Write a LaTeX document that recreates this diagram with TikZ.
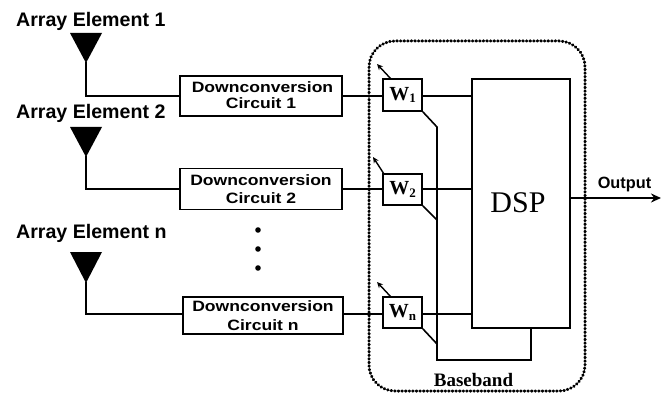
\documentclass[tikz,border=0pt]{standalone}
\usepackage{fontspec}
\setmainfont{Liberation Sans}
\newfontfamily\serifface{Liberation Serif}
\newfontfamily\wideface[FakeStretch=1.17]{Liberation Sans}
\usetikzlibrary{arrows.meta}
\tikzset{
  wire/.style={line width=1.6pt},
  lbl/.style={inner sep=0pt,font=\fontsize{19.6}{21}\selectfont\bfseries,anchor=west},
  dcbox/.style={draw,line width=1.5pt,inner sep=0pt,align=center,font=\wideface\fontsize{15}{16.5}\selectfont\bfseries},
  wbox/.style={draw,line width=1.7pt,inner sep=0pt,font=\serifface\fontsize{20}{22}\selectfont\bfseries},
  tune/.style={line width=1.4pt,-{Stealth[length=6pt,width=5.5pt]}}
}
\newcommand{\wsub}[1]{\raisebox{-2.5pt}{\fontsize{13}{14}\selectfont #1}}
\begin{document}
\begin{tikzpicture}[x=1pt,y=-1pt]
\useasboundingbox (0,0) rectangle (664,393);
% labels
\node[lbl] (l1) at (16,21) {Array Element 1};
\node[lbl] (l2) at (16,113) {Array Element 2};
\node[lbl] (l3) at (16,233) {Array Element n};
% antennas
\fill (70,33) -- (102,33) -- (86,63) -- cycle;
\fill (70,127) -- (102,127) -- (86,157) -- cycle;
\fill (70,252) -- (102,252) -- (86,283) -- cycle;
\coordinate (a1) at (86,62);
\coordinate (a2) at (86,156);
\coordinate (a3) at (86,282);
% downconversion
\node[dcbox,minimum width=162pt,minimum height=40pt] (d1) at (261,96) {\raisebox{2pt}{\hspace*{3pt}Downconversion}\\\raisebox{2pt}{Circuit 1}};
\node[dcbox,minimum width=162pt,minimum height=41pt,font=\wideface\fontsize{15}{18}\selectfont\bfseries] (d2) at (261,189) {Downconversion\\Circuit 2};
\node[dcbox,minimum width=160pt,minimum height=37pt,font=\wideface\fontsize{15}{18.5}\selectfont\bfseries] (d3) at (263,315.5) {Downconversion\\Circuit n};
% weights
\node[wbox,minimum width=39pt,minimum height=32pt] (w1) at (402.5,95) {W\wsub{1}};
\node[wbox,minimum width=39pt,minimum height=31pt] (w2) at (402.5,189.5) {W\wsub{2}};
\node[wbox,minimum width=39pt,minimum height=31pt] (w3) at (402.5,312.5) {W\wsub{n}};
% DSP
\node[draw,line width=2pt,minimum width=98pt,minimum height=249pt,inner sep=0pt] (dsp) at (521,203.5) {};
\node[inner sep=0pt,font=\serifface\fontsize{30}{32}\selectfont] (dsptext) at (518,203) {DSP};
% feed wires
\coordinate (y1) at (0,96);
\coordinate (y2) at (0,189);
\coordinate (y3) at (0,314);
\draw[wire] (a1) |- (d1.west |- y1);
\draw[wire] (a2) |- (d2.west |- y2);
\draw[wire] (a3) |- (d3.west |- y3);
\draw[wire] (d1.east |- y1) -- (w1.west |- y1);
\draw[wire] (d2.east |- y2) -- (w2.west |- y2);
\draw[wire] (d3.east |- y3) -- (w3.west |- y3);
\draw[wire] (w1.east |- y1) -- (dsp.west |- y1);
\draw[wire] (w2.east |- y2) -- (dsp.west |- y2);
\draw[wire] (w3.east |- y3) -- (dsp.west |- y3);
% feedback bus
\coordinate (b1) at (437,127);
\coordinate (b2) at (437,220);
\coordinate (b3) at (437,344);
\coordinate (b4) at (437,360);
\coordinate (b5) at (531,360);
\coordinate (b6) at (531,328);
\draw[wire,line join=miter] (w1.south east) -- (b1) -- (b4) -- (b5) -- (b6);
\draw[wire] (w2.south east) -- (b2);
\draw[wire] (w3.south east) -- (b3);
% tuning arrows
\coordinate (t1) at (377,64);
\coordinate (t2) at (373,157);
\coordinate (t3) at (377,282);
\draw[tune] (391,79) -- (t1);
\draw[tune] (384,174) -- (t2);
\draw[tune] (391,297) -- (t3);
% output
\coordinate (o) at (661,198);
\draw[wire,-{Stealth[length=10pt,width=9pt]}] (o -| dsp.east) -- (o);
\node[inner sep=0pt,font=\fontsize{16.3}{18}\selectfont\bfseries] (ol) at (624.5,185) {Output};
% baseband
\draw[line width=3pt,line cap=round,dash pattern=on 0.6pt off 3pt,rounded corners=26pt] (369,41) rectangle (585,391);
\node[inner sep=0pt,font=\serifface\fontsize{19}{20}\selectfont\bfseries] (bb) at (473.5,380) {Baseband};
% dots
\fill (258,230) circle (2.8pt);
\fill (258,249) circle (2.8pt);
\fill (258,268) circle (2.8pt);
\end{tikzpicture}
\end{document}
